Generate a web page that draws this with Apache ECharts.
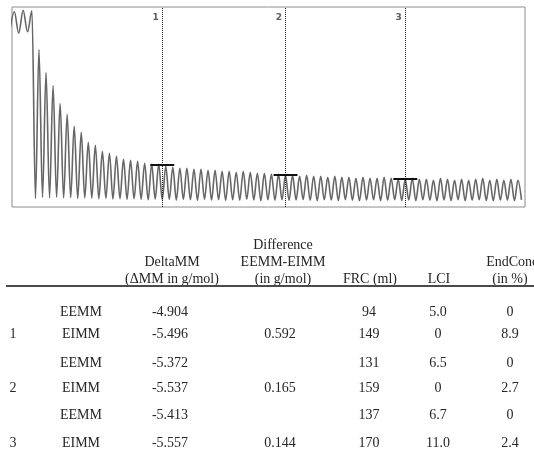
<!DOCTYPE html>
<html>
<head>
<meta charset="utf-8">
<script src="https://cdn.jsdelivr.net/npm/echarts@6/dist/echarts.min.js"></script>
<style>
  html, body { margin: 0; padding: 0; background: #fff; }
  #chart { width: 534px; height: 452px; }
</style>
</head>
<body>
<div id="chart"></div>
<script>
// Tracer concentration (% of inspired level) during the wash-in plateau
const plateauPeaks   = [97.6, 98.4, 98.1];
const plateauTroughs = [88.2, 86.9, 87.6];

// Washout: end-tidal peak and trough per breath
const washoutPeaks = [
  78.6, 67.2, 60.7, 51.7, 46.3, 40.3, 37.3, 32.3, 30.8, 27.9,
  26.9, 25.4, 23.9, 23.4, 22.9, 21.9, 21.4, 21.4, 20.4, 19.9,
  19.4, 19.4, 18.9, 18.9, 18.4, 18.4, 17.9, 17.9, 17.4, 17.9,
  17.4, 16.9, 16.9, 16.4, 16.4, 15.9, 15.9, 15.4, 15.9, 15.4,
  15.4, 14.9, 15.4, 14.9, 14.9, 14.4, 14.9, 14.4, 14.4, 14.9,
  14.4, 13.9, 13.9, 14.4, 13.9, 13.9, 13.4, 14.4, 13.9, 13.4,
  13.9, 13.4, 13.9, 14.4, 13.4, 13.9, 13.4, 13.9, 13.4
];
const washoutTroughs = [
  4.2, 4.8, 4.6, 4.9, 4.5, 4.7, 4.3, 4.6, 4.4, 4.1,
  4.3, 4.0, 4.2, 3.8, 4.1, 3.9, 3.6, 4.0, 3.7, 3.9,
  3.5, 3.8, 3.6, 3.4, 3.8, 3.5, 3.7, 3.3, 3.6, 3.4,
  3.9, 3.5, 3.2, 3.6, 3.4, 3.7, 3.3, 3.5, 3.8, 3.4,
  3.2, 3.6, 3.5, 3.3, 3.7, 3.4, 3.1, 3.5, 3.6, 3.2,
  3.4, 3.7, 3.3, 3.5, 3.2, 3.6, 3.4, 3.1, 3.5, 3.3,
  3.7, 3.2, 3.4, 3.6, 3.3, 3.1, 3.5, 3.4, 3.2, 3.6
];

// Evaluation points: breath number, end-tidal level, label
const markerBreath = [17.5, 35, 52];
const markerLevel  = [21.2, 15.9, 13.9];
const markerLabels = ['1', '2', '3'];

// Table values
const groupLabels = ['1', '2', '3'];
const gasLabels = ['EEMM', 'EIMM'];
const deltaMM = [['-4.904', '-5.496'], ['-5.372', '-5.537'], ['-5.413', '-5.557']];
const difference = ['0.592', '0.165', '0.144'];
const frc = [['94', '149'], ['131', '159'], ['137', '170']];
const lci = [['5.0', '0'], ['6.5', '0'], ['6.7', '11.0']];
const endConc = [['0', '8.9'], ['0', '2.7'], ['0', '2.4']];
const headers = [
  ['DeltaMM', '(\u0394MM in g/mol)'],
  ['Difference', 'EEMM-EIMM', '(in g/mol)'],
  ['FRC (ml)'],
  ['LCI'],
  ['EndConc.', '(in %)']
];

// Build the breath-by-breath trace
const PLATEAU_FIRST = -3.5, PLATEAU_PERIOD = 1.25;
const wave = [];
plateauPeaks.forEach((p, i) => {
  const xp = PLATEAU_FIRST + i * PLATEAU_PERIOD;
  wave.push([xp - PLATEAU_PERIOD / 2, plateauTroughs[i]]);
  wave.push([xp, p]);
});
washoutPeaks.forEach((p, i) => {
  wave.push([i - 0.5, washoutTroughs[i]]);
  wave.push([i, p]);
});
wave.push([washoutPeaks.length - 0.5, washoutTroughs[washoutPeaks.length]]);

const BAR_HALF = 1.7;
const markLines = [];
markerBreath.forEach((b, i) => {
  markLines.push({ xAxis: b, lineStyle: { type: [1, 1], color: '#1e1e1e', width: 1 } });
  markLines.push([
    { coord: [b - BAR_HALF, markerLevel[i]], lineStyle: { type: 'solid', color: '#111', width: 2 } },
    { coord: [b + BAR_HALF, markerLevel[i]] }
  ]);
});

// Table layout
const FONT = '14px "Liberation Serif", "Times New Roman", serif';
const TEXT = '#262626';
const colX = { group: 13, gas: 81, delta: 170, diff: 280, frc: 369, lci: 438, end: 510 };
const headerCols = [172, 283, 370, 439, 510];
const headerLineY = [245, 262, 279];
const rowY = [[312, 334], [363, 388], [415, 443]];

const graphics = [];
function txt(str, x, y, align) {
  graphics.push({
    type: 'text', x: x, y: y, silent: true,
    style: { text: str, font: FONT, fill: TEXT, align: align || 'center', verticalAlign: 'middle' }
  });
}
headers.forEach((lines, c) => {
  const start = headerLineY.length - lines.length;
  lines.forEach((s, k) => txt(s, headerCols[c] + (c === 4 && k === 0 ? 4 : 0), headerLineY[start + k]));
});
graphics.push({
  type: 'line', silent: true,
  shape: { x1: 6, y1: 286, x2: 534, y2: 286 },
  style: { stroke: '#4a4a4a', lineWidth: 2 }
});
groupLabels.forEach((g, r) => {
  const [yE, yI] = rowY[r];
  txt(g, colX.group, yI);
  txt(gasLabels[0], colX.gas, yE);
  txt(gasLabels[1], colX.gas, yI);
  txt(deltaMM[r][0], colX.delta, yE);
  txt(deltaMM[r][1], colX.delta, yI);
  txt(difference[r], colX.diff, yI);
  txt(frc[r][0], colX.frc, yE);
  txt(frc[r][1], colX.frc, yI);
  txt(lci[r][0], colX.lci, yE);
  txt(lci[r][1], colX.lci, yI);
  txt(endConc[r][0], colX.end, yE);
  txt(endConc[r][1], colX.end, yI);
});

const chart = echarts.init(document.getElementById('chart'), null, { renderer: 'canvas' });
chart.setOption({
  animation: false,
  backgroundColor: '#fff',
  grid: { left: 12, right: 9, top: 7, bottom: 245, show: true, borderColor: '#8c8c8c', borderWidth: 1 },
  xAxis: { type: 'value', min: -3.83, max: 69, show: false },
  yAxis: { type: 'value', min: 0, max: 100, show: false },
  series: [
    {
      type: 'line',
      data: wave,
      smooth: 0.35,
      smoothMonotone: 'x',
      showSymbol: false,
      lineStyle: { color: '#666', width: 1.6 },
      markLine: {
        silent: true,
        symbol: 'none',
        label: { show: false },
        data: markLines
      }
    },
    {
      type: 'scatter',
      data: markerBreath.map((b, i) => ({ value: [b, 100], name: markerLabels[i] })),
      symbolSize: 1,
      itemStyle: { color: 'rgba(0,0,0,0)' },
      label: {
        show: true, position: 'left', distance: 3, offset: [0, 11],
        formatter: p => p.name,
        fontSize: 9, fontWeight: 'bold', color: '#333',
        fontFamily: '"DejaVu Sans", sans-serif'
      }
    }
  ],
  graphic: graphics
});
</script>
</body>
</html>
